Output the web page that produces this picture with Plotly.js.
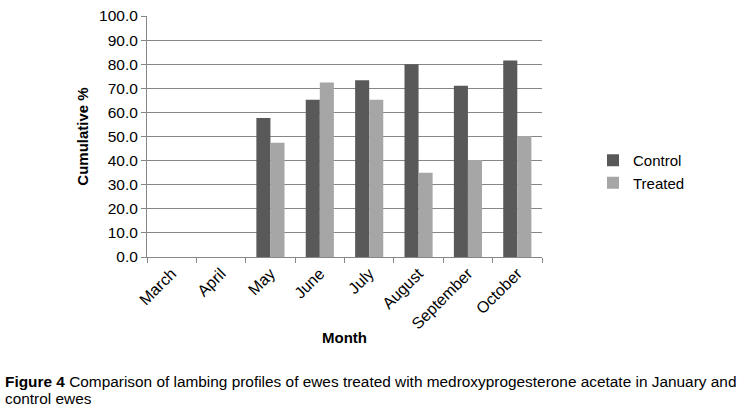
<!DOCTYPE html>
<html>
<head>
<meta charset="utf-8">
<script src="https://cdn.plot.ly/plotly-3.0.1.min.js"></script>
<style>html,body{margin:0;padding:0;background:#fff;}#chart{width:742px;height:406px;}</style>
</head>
<body>
<div id="chart"></div>
<script>
const months = ["March","April","May","June","July","August","September","October"];
const control = [null, null, 57.7, 65.2, 73.3, 80.0, 71.1, 81.5];
const treated = [null, null, 47.4, 72.4, 65.3, 35.0, 40.2, 50.2];
const yTicks = [0,10,20,30,40,50,60,70,80,90,100];

const W = 742, H = 406;
const L = 147, R = 542, T = 16, B = 257;
const pw = R - L, ph = B - T;
const px = x => (x - L) / pw;
const py = y => (B - y) / ph;
const font = "Liberation Sans, Arial, sans-serif";

const data = [
  {type:"bar", name:"Control", x:months, y:control, marker:{color:"#595959"}},
  {type:"bar", name:"Treated", x:months, y:treated, marker:{color:"#a6a6a6"}}
];

const layout = {
  width: W, height: H,
  margin: {l: L, r: W - R, t: T, b: H - B, pad: 0},
  paper_bgcolor: "#fff", plot_bgcolor: "#fff",
  font: {family: font, size: 14, color: "#000"},
  barmode: "group", bargap: 0.43, bargroupgap: 0,
  showlegend: true,
  legend: {x: px(593), y: py(144), xanchor: "left", yanchor: "top",
           font: {size: 15}, tracegroupgap: 0, itemwidth: 30, bgcolor: "rgba(0,0,0,0)"},
  xaxis: {
    type: "category", tickangle: -45, ticks: "outside", tickson: "boundaries",
    ticklen: 5, tickcolor: "#868686", showline: true, linecolor: "#868686",
    tickfont: {size: 16}, showgrid: false,
    title: {text: "<b>Month</b>", font: {size: 15}, standoff: 1}
  },
  yaxis: {
    range: [0, 100], tickvals: yTicks, tickformat: ".1f",
    showgrid: true, gridcolor: "#868686", gridwidth: 1,
    showline: true, linecolor: "#868686", zeroline: false,
    ticks: "outside", ticklen: 5, tickcolor: "#868686",
    tickfont: {size: 15.5},
    title: {text: "<b>Cumulative %</b>", font: {size: 15}, standoff: 6}
  },
  annotations: [
    {xref:"paper", yref:"paper", x: px(3), y: py(371), xanchor:"left", yanchor:"top",
     showarrow:false, align:"left", font:{size:15.4, family: font},
     text:"<b>Figure 4</b> Comparison of lambing profiles of ewes treated with medroxyprogesterone acetate in January and"},
    {xref:"paper", yref:"paper", x: px(3), y: py(388), xanchor:"left", yanchor:"top",
     showarrow:false, align:"left", font:{size:15.4, family: font},
     text:"control ewes"}
  ]
};

Plotly.newPlot("chart", data, layout, {displayModeBar:false, staticPlot:true});
</script>
</body>
</html>
